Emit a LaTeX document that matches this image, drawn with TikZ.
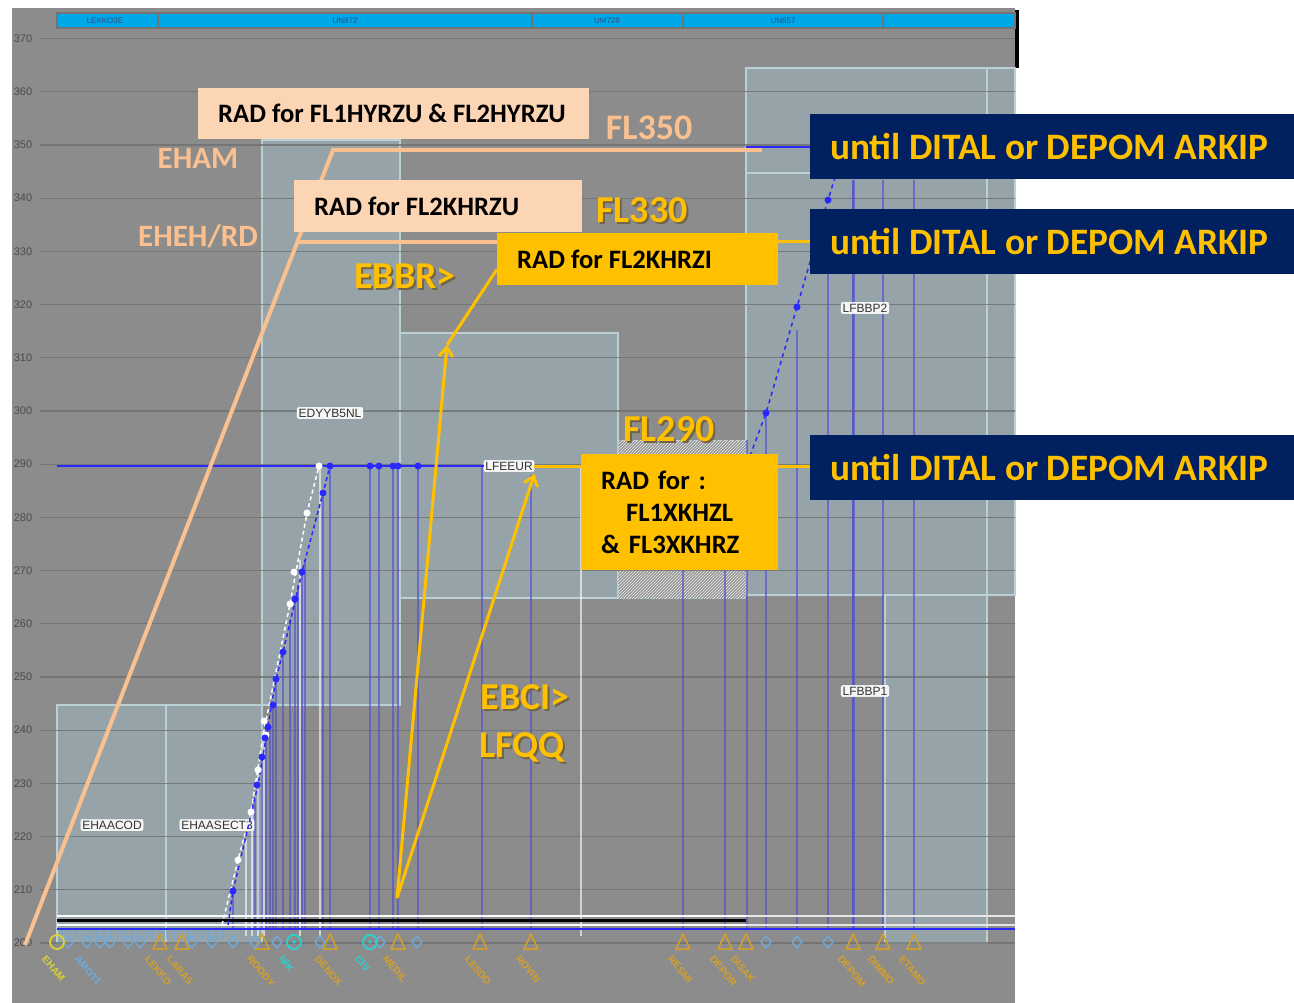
\documentclass[tikz,border=0pt]{standalone}
\usepackage{fontspec}
\setmainfont{Carlito}
\newfontfamily\screenfont{Liberation Sans}
\usetikzlibrary{positioning, calc, arrows.meta, patterns}

\definecolor{panelgray}{RGB}{140,140,140}
\definecolor{sectorfill}{RGB}{150,163,168}
\definecolor{sectorline}{RGB}{185,208,212}
\definecolor{gridgray}{RGB}{112,112,112}
\definecolor{barblue}{RGB}{0,168,232}
\definecolor{routeblue}{RGB}{40,40,255}
\definecolor{wpblue}{RGB}{80,80,210}
\definecolor{peach}{RGB}{250,192,144}
\definecolor{peachbox}{RGB}{252,213,181}
\definecolor{radyellow}{RGB}{255,192,0}
\definecolor{navy}{RGB}{0,32,96}
\definecolor{wporange}{RGB}{214,160,40}
\definecolor{wpyellow}{RGB}{220,210,50}
\definecolor{wpcyan}{RGB}{40,210,210}
\definecolor{wplight}{RGB}{110,170,220}
\definecolor{shadowbrown}{RGB}{90,70,20}
\definecolor{hatchgray}{RGB}{150,150,150}

\newcommand{\radfont}{\bfseries\fontsize{26.6}{32}\selectfont}
\newcommand{\untilfont}{\bfseries\fontsize{37.3}{41}\selectfont}
\newcommand{\tagfont}{\bfseries\fontsize{31}{36}\selectfont}
\newcommand{\flfont}{\bfseries\fontsize{38}{42}\selectfont}
% yellow label with a dark shadow behind it
\newcommand{\glowlabel}[3]{%
  \node[fllabel, text=radyellow] (#1) at (#2)
    {\rlap{\hspace{2pt}\raisebox{-2pt}{\textcolor{shadowbrown!55!panelgray}{#3}}}#3};}

\tikzset{
  sector/.style={fill=sectorfill, draw=sectorline, line width=1.5pt},
  gridline/.style={draw=gridgray, line width=1.2pt},
  axlabel/.style={font=\screenfont\fontsize{11}{12}\selectfont, text=black!70, inner sep=0pt},
  barlabel/.style={font=\screenfont\fontsize{8}{9}\selectfont, text=navy!80, inner sep=0pt},
  wpline/.style={draw=wpblue, opacity=0.65, line width=1.5pt},
  wpwhite/.style={draw=white, opacity=0.6, line width=1.3pt},
  sectlabel/.style={fill=white!92!gray, draw=white, rounded corners=2pt, text=black!80,
    font=\screenfont\fontsize{12}{13}\selectfont, inner sep=1.5pt},
  wplabel/.style={font=\screenfont\bfseries\fontsize{10}{11}\selectfont, rotate=-50, anchor=west, inner sep=0pt},
  peachtag/.style={font=\tagfont, text=peach, inner sep=0pt},
  fllabel/.style={font=\flfont, inner sep=0pt},
  radpeach/.style={fill=peachbox, font=\radfont, text=black, inner xsep=20pt, inner ysep=0pt, anchor=north west},
  radyel/.style={fill=radyellow, font=\radfont, text=black, inner xsep=20pt, inner ysep=0pt, anchor=north west},
  untilbox/.style={fill=navy, font=\untilfont, text=radyellow, inner xsep=20pt, inner ysep=0pt,
    anchor=north west, minimum height=65pt},
  peachline/.style={draw=peach, line width=4pt},
  yelline/.style={draw=radyellow, line width=3pt},
  yelarrow/.style={yelline, -{Straight Barb[length=9pt, width=14pt]}},
}

\begin{document}
\begin{tikzpicture}[x=1pt, y=-1pt]
  % Canvas and chart panel
  \fill[white] (0,0) rectangle (1294,1003);
  \useasboundingbox (0,0) rectangle (1294,1003);
  \fill[panelgray] (12,8) rectangle (1015,1003);
  \fill[black] (1015,10) rectangle (1019,68);

  % Airspace sectors
  \draw[sector] (57,705) rectangle (166,943);
  \draw[sector] (166,705) rectangle (262,943);
  \draw[sector] (262,140) rectangle (400,705);
  \draw[sector] (400,333) rectangle (618,598);
  \draw[sector] (746,68) rectangle (1015,595);
  \draw[sector] (885,595) rectangle (987,943);
  \draw[sectorline, line width=1.5pt] (987,68) -- (987,595);
  \draw[sectorline, line width=1.5pt] (746,173) -- (1015,173);
  \fill[hatchgray] (618,440) rectangle (746,598);
  \fill[pattern=north east lines, pattern color=white!85!gray] (618,440) rectangle (746,598);
  \draw[sectorline, line width=1pt, dashed] (618,440) rectangle (746,598);

  % Flight level grid and labels
  \foreach \fl [evaluate=\fl as \yy using 943-(\fl-200)*5.32] in {200,210,...,370} {
    \draw[gridline, opacity=0.8] (40,\yy) -- (1015,\yy);
    \node[axlabel] (ax\fl) at (23,\yy) {\fl};
  }

  % Airway bar
  \draw[fill=barblue, draw=black!55, line width=1.2pt] (57,13) rectangle (1015,28);
  \foreach \x in {158,532,683,883}
    \draw[black!55, line width=1.2pt] (\x,13) -- (\x,28);
  \node[barlabel] (barA) at (105,20.5) {LEKKO3E};
  \node[barlabel] (barB) at (345,20.5) {UN872};
  \node[barlabel] (barC) at (607,20.5) {UM728};
  \node[barlabel] (barD) at (783,20.5) {UN857};

  % Waypoint verticals
  \foreach \x/\yt in {233/891, 255/800, 258/785, 262/760, 266/738, 270/727, 273/705, 276/679,
      283/652, 290/620, 295/599, 298/585, 302/572, 305/560, 323/493, 330/466, 370/466, 379/466,
      393/466, 398/466, 418/466, 482/466, 531/475, 683/470, 725/470, 747/440, 766/413, 797/330,
      828/273, 853/180, 883/180, 914/180}
    \draw[wpline] (\x,\yt) -- (\x,929);
  \draw[wpline, line width=3pt] (853,180) -- (853,929);
  \foreach \x/\yt in {246/840, 252/812, 258/770, 264/735, 300/560, 320/466, 581/466}
    \draw[wpwhite] (\x,\yt) -- (\x,936);
  \foreach \x in {62,69,...,226}
    \draw[wplight, opacity=0.7, line width=1.2pt] (\x,929) -- (\x,939);

  % Ground track strips
  \draw[white, line width=2pt] (57,916) -- (746,916);
  \draw[black, line width=2.5pt] (57,920.5) -- (746,920.5);
  \draw[white, line width=2pt] (57,925) -- (746,925);
  \draw[white!80!gray, line width=1.5pt] (746,916) -- (1015,916);
  \draw[white!80!gray, line width=1.5pt] (746,925) -- (1015,925);
  \draw[routeblue, line width=2.5pt] (57,929) -- (1015,929);

  % Sector name tags
  \node[sectlabel] (sEHAACOD) at (112,825) {EHAACOD};
  \node[sectlabel] (sEHAASECT) at (217,825) {EHAASECT3};
  \node[sectlabel] (sEDYY) at (330,413) {EDYYB5NL};
  \node[sectlabel] (lblLFEEUR) at (509,466) {LFEEUR};
  \node[sectlabel] (sLFBBP2) at (865,308) {LFBBP2};
  \node[sectlabel] (sLFBBP1) at (865,691) {LFBBP1};

  % Vertical profile
  \draw[white, line width=1.5pt, dash pattern=on 4pt off 3pt]
    (222,925) -- (238,860) -- (251,812) -- (264,730) -- (290,604) -- (307,513) -- (319,466);
  \draw[routeblue, line width=1.5pt, dash pattern=on 4pt off 3pt]
    (228,925) -- (233,891) -- (258,785) -- (276,679) -- (283,652) -- (302,572) -- (323,493) -- (330,466);
  \draw[routeblue, line width=2pt] (57,466) -- (lblLFEEUR.west);
  \foreach \x/\y in {238/860, 251/812, 258/770, 266/735, 264/721, 290/604, 294/572, 307/513, 319/466}
    \fill[white] (\x,\y) circle[radius=3.5pt];
  \foreach \x/\y in {233/891, 257/785, 262/757, 265/738, 268/727, 273/705, 276/679, 283/652,
      295/599, 302/572, 323/493, 330/466, 370/466, 379/466, 393/466, 398/466, 418/466}
    \fill[routeblue] (\x,\y) circle[radius=3.5pt];
  \draw[routeblue, line width=1.5pt, dash pattern=on 4pt off 4pt]
    (750,456) -- (766,413) -- (797,307) -- (828,200) -- (842,155);
  \foreach \x/\y in {766/413, 797/307, 828/200}
    \fill[routeblue] (\x,\y) circle[radius=3.5pt];

  % Waypoint symbols
  \foreach \x in {160,182,262,330,398,480,531,683,725,746,853,883,914}
    \draw[wporange, line width=1.5pt, line join=round] (\x,934) -- (\x+7,949) -- (\x-7,949) -- cycle;
  \foreach \x in {68,87,100,110,128,140,192,212,233,255,277,320,380,417,766,797,828}
    \draw[wplight, line width=1.3pt] (\x,936) -- (\x+5,942) -- (\x,948) -- (\x-5,942) -- cycle;
  \foreach \x in {294,370} {
    \draw[wpcyan, line width=1.8pt] (\x,942) circle[radius=7pt];
    \fill[wpcyan] (\x,942) circle[radius=1.8pt];
  }
  \draw[wpyellow, line width=1.8pt] (57,942) circle[radius=7pt];

  % Waypoint names
  \foreach \x/\nm/\col in {57/EHAM/wpyellow, 90/AMOT1/wplight, 160/LEKKO/wporange, 182/LARAS/wporange,
      262/ROODY/wporange, 294/NIK/wpcyan, 330/DENOX/wporange, 370/CIV/wpcyan, 398/MEDIL/wporange,
      480/LESDO/wporange, 531/ROVIN/wporange, 683/RESMI/wporange, 725/DEPOR/wporange,
      746/DISAK/wporange, 853/DEPOM/wporange, 883/DIMMO/wporange, 914/ETAMO/wporange}
    \node[wplabel, text=\col] (wp\nm) at (\x-13,957) {\nm};

  % Route overlays
  \coordinate (rtStart) at (25,945);
  \coordinate (rtBend) at (333,150);
  \coordinate (rtEnd) at (762,150);
  \coordinate (rtFork) at ($(rtStart)!0.8843!(rtBend)$);
  \draw[peachline] (rtStart) -- (rtBend) -- (rtEnd);

  \node[peachtag] (tagEHAM) at (198,158) {EHAM};
  \node[peachtag] (tagEHEH) at (198,236) {EHEH/RD};
  \node[peachtag, font=\bfseries\fontsize{36}{40}\selectfont] (tagFL350) at (649,128) {FL350};
  \glowlabel{flA}{642,211}{FL330}
  \glowlabel{ebbr}{405,277}{EBBR>}
  \glowlabel{flB}{669,430}{FL290}
  \glowlabel{ebci}{525,698}{EBCI>}
  \glowlabel{lfqq}{522,748}{LFQQ}

  % RAD boxes
  \node[radpeach, minimum width=391pt, minimum height=51pt] (radHY) at (198,88)
    {\makebox[351pt][l]{RAD for FL1HYRZU \& FL2HYRZU}};
  \node[radpeach, minimum width=288pt, minimum height=52pt] (radKU) at (294,180)
    {\makebox[248pt][l]{RAD for FL2KHRZU}};
  \node[radyel, minimum width=281pt, minimum height=52pt] (radKI) at (497,233)
    {\makebox[241pt][l]{RAD for FL2KHRZI}};
  \node[radyel, minimum height=116pt, text width=157pt, align=left] (radXK) at (581,454)
    {RAD for :\\\hspace*{25pt}FL1XKHZL\\\& FL3XKHRZ};

  % Until boxes
  \node[untilbox] (untilA) at (810,114) {\makebox[444pt][l]{until DITAL or DEPOM ARKIP}};
  \node[untilbox] (untilB) at (810,209) {\makebox[444pt][l]{until DITAL or DEPOM ARKIP}};
  \node[untilbox] (untilC) at (810,435) {\makebox[444pt][l]{until DITAL or DEPOM ARKIP}};

  % Connectors
  \draw[peachline] (rtFork) -- (rtFork -| radKI.west);
  \draw[routeblue, line width=2pt] (746,147) -- (746,147 -| untilA.west);
  \draw[yelline] ([yshift=18pt]radKI.east) -- ([yshift=18pt]radKI.east -| untilB.west);
  \draw[yelline] (lblLFEEUR.east) -- (lblLFEEUR.east -| radXK.west);
  \draw[yelline] (lblLFEEUR.east -| radXK.east) -- (lblLFEEUR.east -| untilC.west);

  % Arrows from MEDIL
  \coordinate (arrOrig) at (397,898);
  \coordinate (arrTipA) at (447,345);
  \draw[yelarrow] (arrOrig) -- (arrTipA);
  \draw[yelline] (arrTipA) -- ([yshift=-10pt]radKI.west);
  \draw[yelarrow] (arrOrig) -- ([yshift=-2pt]lblLFEEUR.south east);
\end{tikzpicture}
\end{document}
